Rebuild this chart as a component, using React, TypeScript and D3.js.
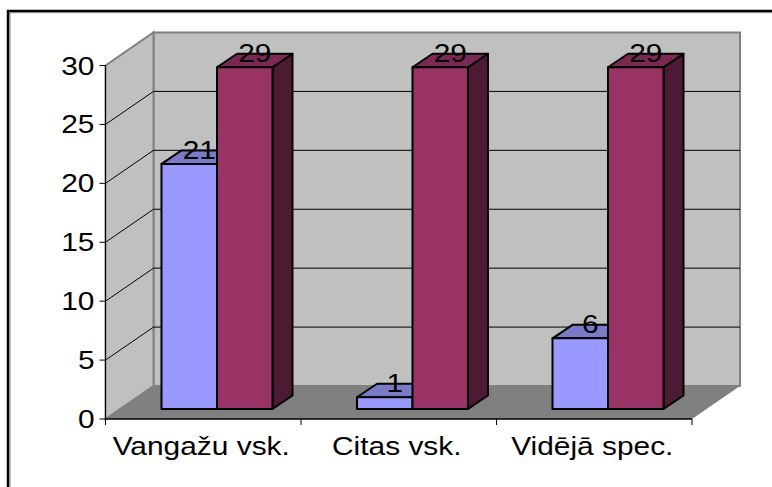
import React from "react";
import * as d3 from "d3";

const categories = ["Vangažu vsk.", "Citas vsk.", "Vidējā spec."];
const seriesNames = ["a", "b"];
const seriesA = [20.8, 1, 6];
const seriesB = [29, 29, 29];
const yTicks = [0, 5, 10, 15, 20, 25, 30];

const frontColors = ["#9999ff", "#993366"];
const topColors = ["#7a7ac6", "#7a2952"];
const sideColors = ["#4d4d80", "#4d1a33"];

const width = 772;
const height = 487;

// plot front plane
const x0 = 105.5;
const x1 = 692;
const yBase = 419;
const yTop = 65.5;
// wall depth
const depthX = 48;
const depthY = 33;
// bars sit part way into the floor
const barOffX = 14.5;
const barOffY = 10;
const barDX = 20;
const barDY = 13.5;

const x = d3.scaleBand<string>().domain(categories).range([x0, x1]);
const xInner = d3.scaleBand<string>().domain(seriesNames).range([41.5, 152.5]);
const y = d3.scaleLinear().domain([0, 30]).range([yBase, yTop]);

const poly = (pts: [number, number][]) => d3.line()(pts) + "Z";

// reference text is stretched sideways
function Label({ px, py, anchor, children }: { px: number; py: number; anchor: string; children: React.ReactNode }) {
  return (
    <text transform={`translate(${px},${py}) scale(1.15,1)`} textAnchor={anchor} fontSize={26} fill="#000">
      {children}
    </text>
  );
}

function Bar({ cat, s, value }: { cat: string; s: number; value: number }) {
  const left = x(cat)! + xInner(seriesNames[s])! + barOffX;
  const right = left + xInner.bandwidth();
  const bottom = y(0) - barOffY;
  const top = y(value) - barOffY;
  return (
    <g stroke="#000" strokeWidth={2} strokeLinejoin="round">
      <path
        d={poly([[right, top], [right + barDX, top - barDY], [right + barDX, bottom - barDY], [right, bottom]])}
        fill={sideColors[s]}
      />
      <path
        d={poly([[left, top], [left + barDX, top - barDY], [right + barDX, top - barDY], [right, top]])}
        fill={topColors[s]}
      />
      <path d={poly([[left, top], [right, top], [right, bottom], [left, bottom]])} fill={frontColors[s]} />
    </g>
  );
}

export default function App() {
  return (
    <svg
      width={width}
      height={height}
      viewBox={`0 0 ${width} ${height}`}
      style={{ position: "absolute", left: 0, top: 0, fontFamily: "'Liberation Sans', Arial, sans-serif" }}
    >
      <rect width={width} height={height} fill="#fff" />
      <path d="M10,487V12.5H772" fill="none" stroke="#b0b0b0" strokeWidth={1.5} />
      <path d="M8,487V11H772" fill="none" stroke="#000" strokeWidth={2.5} />

      {/* walls */}
      <path
        d={poly([[x0 + depthX, yTop - depthY], [x1 + depthX, yTop - depthY], [x1 + depthX, yBase - depthY], [x0 + depthX, yBase - depthY]])}
        fill="#c0c0c0"
        stroke="#808080"
        strokeWidth={2}
      />
      <path
        d={poly([[x0, yTop], [x0 + depthX, yTop - depthY], [x0 + depthX, yBase - depthY], [x0, yBase]])}
        fill="#c0c0c0"
        stroke="#808080"
        strokeWidth={2}
      />
      <path
        d={poly([[x0, yBase], [x0 + depthX, yBase - depthY], [x1 + depthX, yBase - depthY], [x1, yBase]])}
        fill="#808080"
      />

      {/* gridlines */}
      {yTicks.slice(1, -1).map((t) => (
        <path
          key={t}
          d={d3.line()([[x0, y(t)], [x0 + depthX, y(t) - depthY], [x1 + depthX, y(t) - depthY]])!}
          fill="none"
          stroke="#000"
          strokeWidth={1}
        />
      ))}

      {/* axes */}
      <line x1={x0} x2={x0} y1={yTop} y2={yBase} stroke="#000" strokeWidth={1} />
      <line x1={x0} x2={x1} y1={yBase} y2={yBase} stroke="#000" strokeWidth={1.5} />
      {yTicks.map((t) => (
        <g key={t}>
          <line x1={x0 - 6} x2={x0} y1={y(t)} y2={y(t)} stroke="#000" />
          <Label px={x0 - 11} py={y(t) + 9} anchor="end">
            {t}
          </Label>
        </g>
      ))}
      {categories.map((c) => (
        <line key={c} x1={x(c)!} x2={x(c)!} y1={yBase} y2={yBase + 6} stroke="#000" />
      ))}
      <line x1={x1} x2={x1} y1={yBase} y2={yBase + 6} stroke="#000" />
      {categories.map((c) => (
        <Label key={c} px={x(c)! + x.bandwidth() / 2 - 2} py={455} anchor="middle">
          {c}
        </Label>
      ))}

      {/* bars */}
      {categories.map((c, i) => (
        <g key={c}>
          <Bar cat={c} s={0} value={seriesA[i]} />
          <Bar cat={c} s={1} value={seriesB[i]} />
        </g>
      ))}

      {/* value labels */}
      {categories.map((c, i) =>
        [seriesA[i], seriesB[i]].map((v, s) => (
          <Label
            key={s}
            px={x(c)! + xInner(seriesNames[s])! + barOffX + xInner.bandwidth() / 2 + 10}
            py={y(v) - barOffY - 5}
            anchor="middle"
          >
            {Math.round(v)}
          </Label>
        ))
      )}
    </svg>
  );
}
